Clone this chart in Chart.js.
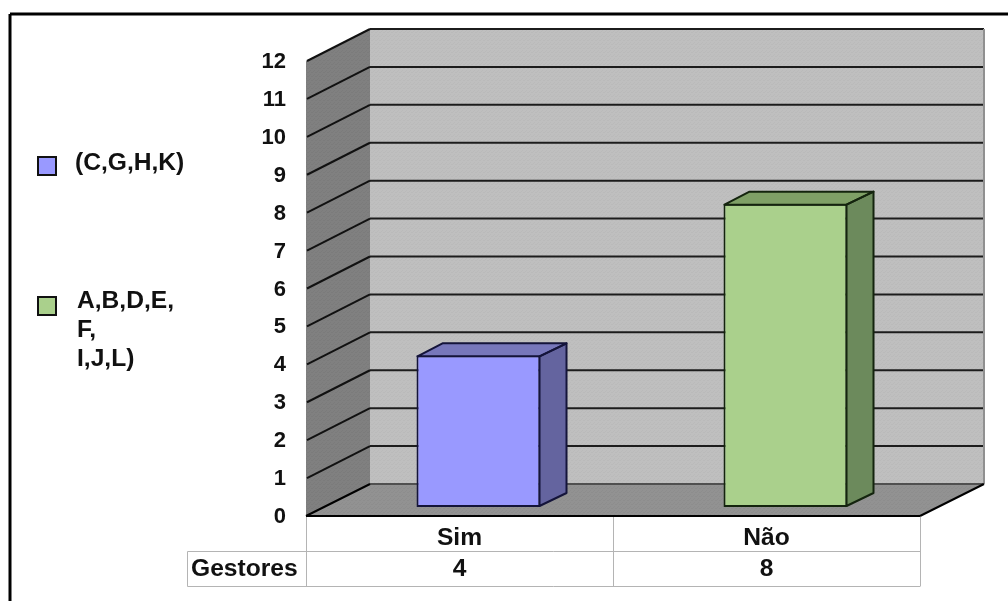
<!DOCTYPE html>
<html>
<head>
<meta charset="utf-8">
<title>Gestores</title>
<script src="https://cdn.jsdelivr.net/npm/chart.js@4"></script>
<style>
    html, body { margin: 0; padding: 0; background: #ffffff; }
    canvas { display: block; }
</style>
</head>
<body>
<canvas id="graficoGestores" width="1008" height="601"></canvas>
<script>
// Dados do grafico
const categorias = ['Sim', 'Não'];
const gestores = [4, 8];
const nomeLinha = 'Gestores';
const rotulosY = ['0', '1', '2', '3', '4', '5', '6', '7', '8', '9', '10', '11', '12'];
const legendaAzul = ['(C,G,H,K)'];
const legendaVerde = ['A,B,D,E,', 'F,', 'I,J,L)'];

const fonte = 'bold 24.6px "Liberation Sans"';
const corTexto = '#111111';

// Profundidade da caixa 3D e da barra, em pixels
const fundoX = 64, fundoY = -32;
const barraX = 26, barraY = -13;
const recuoX = 19, recuoY = -9;

const coresBarra = [
    { frente: '#9999ff', topo: '#7777bb', lado: '#64649f', borda: '#14143a' },
    { frente: '#aad08c', topo: '#7fa066', lado: '#6c8a5c', borda: '#14240e' }
];

// Textura pontilhada das paredes
function textura(ctx, cor1, cor2) {
    const c = document.createElement('canvas');
    c.width = 4;
    c.height = 4;
    const p = c.getContext('2d');
    p.fillStyle = cor1;
    p.fillRect(0, 0, 4, 4);
    p.fillStyle = cor2;
    p.fillRect(0, 0, 1, 1);
    p.fillRect(2, 2, 1, 1);
    p.fillRect(3, 0, 1, 1);
    p.fillRect(1, 3, 1, 1);
    return ctx.createPattern(c, 'repeat');
}

function poligono(ctx, pontos, preenchimento) {
    ctx.beginPath();
    pontos.forEach((p, i) => i ? ctx.lineTo(p[0], p[1]) : ctx.moveTo(p[0], p[1]));
    ctx.closePath();
    ctx.fillStyle = preenchimento;
    ctx.fill();
}

function linha(ctx, x1, y1, x2, y2, cor, largura) {
    ctx.beginPath();
    ctx.moveTo(x1, y1);
    ctx.lineTo(x2, y2);
    ctx.strokeStyle = cor;
    ctx.lineWidth = largura;
    ctx.stroke();
}

// Paredes, piso e linhas de grade
const caixa3d = {
    id: 'caixa3d',
    beforeDatasetsDraw(chart) {
        const ctx = chart.ctx;
        const { left, right, top, bottom } = chart.chartArea;
        const y = chart.scales.y;
        ctx.save();

        poligono(ctx, [[left + fundoX, top + fundoY], [right + fundoX, top + fundoY], [right + fundoX, bottom + fundoY], [left + fundoX, bottom + fundoY]], textura(ctx, '#bfbfbf', '#bababa'));
        poligono(ctx, [[left, top], [left + fundoX, top + fundoY], [left + fundoX, bottom + fundoY], [left, bottom]], textura(ctx, '#808080', '#7b7b7b'));
        poligono(ctx, [[left, bottom], [left + fundoX, bottom + fundoY], [right + fundoX, bottom + fundoY], [right, bottom]], textura(ctx, '#929292', '#8d8d8d'));

        rotulosY.forEach((r, i) => {
            const py = y.getPixelForValue(i);
            if (i > 0) {
                linha(ctx, left + fundoX, py + fundoY, right + fundoX, py + fundoY, '#1c1c1c', 2);
                linha(ctx, left + 1, py, left + fundoX, py + fundoY, '#111111', 2);
            }
        });
        linha(ctx, left + fundoX, bottom + fundoY, right + fundoX, bottom + fundoY, '#505050', 2);
        linha(ctx, right + fundoX, top + fundoY, right + fundoX, bottom + fundoY, '#909090', 2);
        linha(ctx, left, bottom, left + fundoX, bottom + fundoY, '#000000', 2);
        linha(ctx, right, bottom, right + fundoX, bottom + fundoY, '#000000', 2);
        linha(ctx, left, bottom, right, bottom, '#000000', 2);

        ctx.restore();

        // As barras ficam recuadas dentro da caixa
        ctx.save();
        ctx.translate(recuoX, recuoY);
    },
    afterDatasetsDraw(chart) {
        const ctx = chart.ctx;
        chart.getDatasetMeta(0).data.forEach((barra, i) => {
            const cor = coresBarra[i];
            const esq = barra.x - barra.width / 2;
            const dir = barra.x + barra.width / 2;
            const topo = barra.y + 1;
            const base = barra.base - 1;
            const lado = [[dir - 1, topo], [dir + barraX, topo + barraY], [dir + barraX, base + barraY], [dir - 1, base]];
            const cima = [[esq + 1, topo], [esq + barraX, topo + barraY], [dir + barraX, topo + barraY], [dir - 1, topo]];
            poligono(ctx, lado, cor.lado);
            poligono(ctx, cima, cor.topo);
            ctx.strokeStyle = cor.borda;
            ctx.lineWidth = 2;
            ctx.lineJoin = 'round';
            [lado, cima].forEach(pts => {
                ctx.beginPath();
                pts.forEach((p, k) => k ? ctx.lineTo(p[0], p[1]) : ctx.moveTo(p[0], p[1]));
                ctx.closePath();
                ctx.stroke();
            });
        });
        ctx.restore();
    }
};

// Tabela de dados embaixo do eixo, legenda e moldura
const extras = {
    id: 'extras',
    afterDraw(chart) {
        const ctx = chart.ctx;
        const { left, right, bottom } = chart.chartArea;
        const x = chart.scales.x;
        const meio = (x.getPixelForValue(0) + x.getPixelForValue(1)) / 2;
        ctx.save();

        const corTabela = '#b4b4b4';
        const yLinha = 551.5, yFim = 586.5, xRotulo = 187.5;
        linha(ctx, xRotulo, yLinha, right, yLinha, corTabela, 1);
        linha(ctx, xRotulo, yFim, right, yFim, corTabela, 1);
        linha(ctx, xRotulo, yLinha, xRotulo, yFim, corTabela, 1);
        [left, meio, right].forEach(px => linha(ctx, Math.round(px) + 0.5, bottom + 1, Math.round(px) + 0.5, yFim, corTabela, 1));

        ctx.font = fonte;
        ctx.fillStyle = corTexto;
        ctx.textBaseline = 'middle';
        ctx.textAlign = 'center';
        gestores.forEach((v, i) => ctx.fillText(String(v), x.getPixelForValue(i), 569.5));
        ctx.textAlign = 'left';
        ctx.fillText(nomeLinha, 191, 569.5);

        // Legenda
        ctx.fillStyle = coresBarra[0].frente;
        ctx.fillRect(38, 157, 18, 18);
        ctx.strokeStyle = '#111111';
        ctx.lineWidth = 2;
        ctx.strokeRect(38, 157, 18, 18);
        ctx.fillStyle = coresBarra[1].frente;
        ctx.fillRect(38, 297, 18, 18);
        ctx.strokeRect(38, 297, 18, 18);

        ctx.fillStyle = corTexto;
        ctx.fillText(legendaAzul[0], 75, 163);
        legendaVerde.forEach((t, i) => ctx.fillText(t, 77, 301 + i * 29));

        // Moldura: so topo e lado esquerdo
        linha(ctx, 10, 14, 1008, 14, '#000000', 3);
        linha(ctx, 10, 14, 10, 601, '#000000', 3);
        ctx.restore();
    }
};

new Chart(document.getElementById('graficoGestores'), {
    type: 'bar',
    data: {
        labels: categorias,
        datasets: [{
            label: nomeLinha,
            data: gestores,
            backgroundColor: coresBarra.map(c => c.frente),
            borderColor: coresBarra.map(c => c.borda),
            borderWidth: 2,
            borderSkipped: false,
            barPercentage: 0.404,
            categoryPercentage: 1
        }]
    },
    plugins: [caixa3d, extras],
    options: {
        responsive: false,
        animation: false,
        devicePixelRatio: 1,
        layout: { padding: { left: 0, right: 88, top: 61, bottom: 0 } },
        plugins: {
            legend: { display: false },
            tooltip: { enabled: false }
        },
        scales: {
            x: {
                afterFit: s => { s.height = 85; },
                grid: { display: false, drawTicks: false },
                border: { display: false },
                ticks: { color: corTexto, font: { family: 'Liberation Sans', size: 24.6, weight: 'bold' }, padding: 7.5, maxRotation: 0 }
            },
            y: {
                min: 0,
                max: 12,
                afterFit: s => { s.width = 306; },
                grid: { display: false, drawTicks: false },
                border: { display: false },
                ticks: {
                    stepSize: 1,
                    color: corTexto,
                    font: { family: 'Liberation Sans', size: 22, weight: 'bold' },
                    padding: 20,
                    labelOffset: 1,
                    callback: v => rotulosY[v]
                }
            }
        }
    }
});
</script>
</body>
</html>
